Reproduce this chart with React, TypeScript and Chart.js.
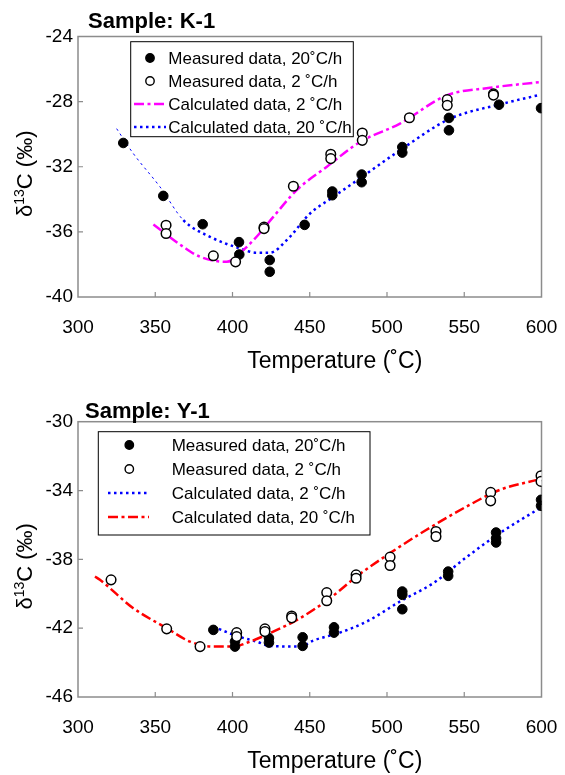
import React, { useEffect, useRef } from "react";
import { Chart, registerables } from "chart.js";

Chart.register(...registerables);

const FONT = '"Liberation Sans", Arial, Helvetica, sans-serif';

// ---------- shared axis data ----------
const X_TICKS = [300, 350, 400, 450, 500, 550, 600];
const K1_Y_TICKS = [-40, -36, -32, -28, -24];
const Y1_Y_TICKS = [-46, -42, -38, -34, -30];

const X_TITLE = "Temperature (˚C)";

// ---------- Sample K-1 ----------
const K1_TITLE = "Sample: K-1";
const K1_LEGEND = [
  "Measured data, 20˚C/h",
  "Measured data, 2 ˚C/h",
  "Calculated data, 2 ˚C/h",
  "Calculated data, 20 ˚C/h",
];
const K1_MEAS_20: [number, number][] = [
  [329.3, -30.54], [355.2, -33.79], [380.7, -35.53], [404.2, -36.63], [404.4, -37.39],
  [424.1, -37.73], [424.1, -38.45], [446.7, -35.57], [464.6, -33.52], [464.6, -33.75],
  [483.6, -32.48], [483.6, -32.95], [509.9, -30.79], [509.9, -31.13], [540.1, -29.0],
  [540.1, -29.76], [572.5, -28.19], [599.7, -28.4],
];
const K1_MEAS_2: [number, number][] = [
  [357, -35.59], [357, -36.1], [387.6, -37.47], [402, -37.84], [420.4, -35.71],
  [420.4, -35.8], [439.4, -33.2], [463.6, -31.23], [463.6, -31.5], [484, -29.93],
  [484, -30.38], [514.5, -28.99], [539, -27.88], [539, -28.23], [568.9, -27.52], [568.9, -27.6],
];
const K1_CALC_2: [number, number][] = [
  [348.8, -35.55], [368.2, -36.92], [379, -37.53], [396.2, -37.84], [407, -37.12],
  [415.6, -36.3], [426.4, -35.08], [441.5, -33.44], [460.9, -32.01], [482.5, -30.48],
  [508.4, -29.35], [538.6, -27.62], [566.6, -27.15], [599, -26.8],
];
const K1_CALC_20: [number, number][] = [
  [325, -29.66], [335.8, -31.19], [353.1, -33.24], [368.2, -35.28], [385.4, -36.3],
  [404.9, -37.02], [415.6, -37.28], [424.3, -37.28], [435.1, -36.51], [450.2, -34.87],
  [465.3, -33.85], [486.9, -32.42], [508.4, -30.99], [540.8, -29.05], [573.1, -28.17],
  [599, -27.58],
];

// ---------- Sample Y-1 ----------
const Y1_TITLE = "Sample: Y-1";
const Y1_LEGEND = [
  "Measured data, 20˚C/h",
  "Measured data, 2 ˚C/h",
  "Calculated data, 2 ˚C/h",
  "Calculated data, 20 ˚C/h",
];
const Y1_MEAS_20: [number, number][] = [
  [387.6, -42.1], [401.6, -42.78], [401.6, -43.07], [423.6, -42.58], [423.6, -42.84],
  [445.4, -42.53], [445.4, -43.03], [465.7, -41.95], [465.7, -42.26], [509.9, -39.87],
  [509.9, -40.06], [509.9, -40.9], [539.6, -38.71], [539.6, -38.96], [570.6, -36.44],
  [570.6, -36.77], [570.6, -37.02], [599.7, -34.54], [599.7, -34.89],
];
const Y1_MEAS_2: [number, number][] = [
  [321.4, -39.19], [357.4, -42.04], [379, -43.07], [402.7, -42.26], [402.7, -42.49],
  [421, -42.04], [421, -42.2], [438.3, -41.29], [438.3, -41.4], [461, -39.93],
  [461, -40.41], [480, -38.9], [480, -39.1], [502, -37.87], [502, -38.36],
  [531.7, -36.38], [531.7, -36.67], [567.1, -34.11], [567.1, -34.6], [599.7, -33.14],
  [599.7, -33.47],
];
const Y1_CALC_2: [number, number][] = [
  [387.6, -41.91], [402.7, -42.45], [415.6, -42.78], [424.3, -43.03], [443.7, -43.07],
  [452.3, -42.72], [469.5, -42.26], [486.8, -41.62], [508.4, -40.45], [530, -39.38],
  [551.5, -37.87], [573.1, -36.47], [599, -35.02],
];
const Y1_CALC_20: [number, number][] = [
  [311, -39.0], [314.2, -39.19], [335.8, -40.84], [357.4, -42.0], [372.5, -42.78],
  [387.6, -43.07], [400.5, -43.07], [411.3, -42.78], [426.4, -42.2], [443.7, -41.42],
  [463.1, -40.26], [480.3, -39.0], [501.9, -37.64], [525.6, -36.28], [551.5, -34.93],
  [573.1, -33.96], [599, -33.34],
];

// ---------- styles ----------
const DOT = [2.5, 3.5];
const DASHDOT = [10, 3.5, 3, 3.5];

type LegendRow = { kind: "filled" | "open" | "line"; color?: string; dash?: number[] };

interface PanelCfg {
  title: string;
  titleX: number;
  titleY: number;
  legendTexts: string[];
  legendRows: LegendRow[];
  box: { x: number; y: number; w: number; h: number };
  symX: number;
  lineX0: number;
  lineX1: number;
  textX: number;
  rowY: number[];
}

function decorPlugin(cfg: PanelCfg) {
  return {
    id: "decor",
    beforeDatasetsDraw(chart: any) {
      const ctx = chart.ctx as CanvasRenderingContext2D;
      const a = chart.chartArea;
      const xs = chart.scales.x;
      const ys = chart.scales.y;
      ctx.save();
      ctx.strokeStyle = "#8c8c8c";
      ctx.lineWidth = 1.5;
      ctx.strokeRect(a.left, a.top, a.right - a.left, a.bottom - a.top);
      ctx.lineWidth = 1.2;
      ctx.beginPath();
      xs.ticks.forEach((t: any) => {
        const p = xs.getPixelForValue(t.value);
        if (p <= a.left + 1 || p >= a.right - 1) return;
        ctx.moveTo(p, a.bottom);
        ctx.lineTo(p, a.bottom - 5);
      });
      ys.ticks.forEach((t: any) => {
        const p = ys.getPixelForValue(t.value);
        if (p <= a.top + 1 || p >= a.bottom - 1) return;
        ctx.moveTo(a.left, p);
        ctx.lineTo(a.left + 5, p);
      });
      ctx.stroke();
      ctx.restore();
    },
    afterDraw(chart: any) {
      const ctx = chart.ctx as CanvasRenderingContext2D;
      const a = chart.chartArea;
      ctx.save();
      ctx.fillStyle = "#000";
      // panel title
      ctx.font = `bold 22px ${FONT}`;
      ctx.textAlign = "left";
      ctx.textBaseline = "middle";
      ctx.fillText(cfg.title, cfg.titleX, cfg.titleY);
      // x title
      ctx.font = `23px ${FONT}`;
      ctx.textAlign = "center";
      ctx.fillText(X_TITLE, (a.left + a.right) / 2 + 25, a.bottom + 65);
      // y title
      ctx.save();
      ctx.translate(24, (a.top + a.bottom) / 2 + 7);
      ctx.rotate(-Math.PI / 2);
      const big = `22px ${FONT}`;
      const small = `14px ${FONT}`;
      ctx.font = big;
      const w1 = ctx.measureText("δ").width;
      const w3 = ctx.measureText("C (‰)").width;
      ctx.font = small;
      const w2 = ctx.measureText("13").width;
      let x0 = -(w1 + w2 + w3) / 2;
      ctx.textAlign = "left";
      ctx.textBaseline = "alphabetic";
      const base = 8;
      ctx.font = big;
      ctx.fillText("δ", x0, base);
      x0 += w1;
      ctx.font = small;
      ctx.fillText("13", x0, base - 8);
      x0 += w2;
      ctx.font = big;
      ctx.fillText("C (‰)", x0, base);
      ctx.restore();
      // legend
      const b = cfg.box;
      ctx.fillStyle = "#fff";
      ctx.fillRect(b.x, b.y, b.w, b.h);
      ctx.strokeStyle = "#000";
      ctx.lineWidth = 1;
      ctx.strokeRect(b.x, b.y, b.w, b.h);
      ctx.font = `17px ${FONT}`;
      ctx.textAlign = "left";
      ctx.textBaseline = "middle";
      cfg.legendRows.forEach((r, i) => {
        const y = cfg.rowY[i];
        if (r.kind === "filled" || r.kind === "open") {
          ctx.beginPath();
          ctx.arc(cfg.symX, y, 4.2, 0, Math.PI * 2);
          ctx.fillStyle = r.kind === "filled" ? "#000" : "#fff";
          ctx.fill();
          ctx.strokeStyle = "#000";
          ctx.lineWidth = 1.4;
          ctx.stroke();
        } else {
          ctx.beginPath();
          ctx.setLineDash(r.dash || []);
          ctx.strokeStyle = r.color || "#000";
          ctx.lineWidth = 2.5;
          ctx.moveTo(cfg.lineX0, y);
          ctx.lineTo(cfg.lineX1, y);
          ctx.stroke();
          ctx.setLineDash([]);
        }
        ctx.fillStyle = "#000";
        ctx.fillText(cfg.legendTexts[i], cfg.textX, y + 1);
      });
      ctx.restore();
    },
  };
}

function toPts(arr: [number, number][]) {
  return arr.map(([x, y]) => ({ x, y }));
}

function buildConfig(opts: {
  yMin: number;
  yMax: number;
  yTicks: number[];
  meas20: [number, number][];
  meas2: [number, number][];
  lineA: [number, number][];
  lineAColor: string;
  lineADash: number[];
  lineAThinUntil: number;
  lineB: [number, number][];
  lineBColor: string;
  lineBDash: number[];
  xAxisHeight: number;
  padTop: number;
  cfg: PanelCfg;
}): any {
  const pointCommon = { showLine: false, pointRadius: 4.8, pointHoverRadius: 4.8 };
  return {
    type: "scatter",
    data: {
      datasets: [
        {
          label: "m20",
          data: toPts(opts.meas20),
          ...pointCommon,
          backgroundColor: "#000",
          borderColor: "#000",
          pointBorderWidth: 1,
          order: 2,
        },
        {
          label: "m2",
          data: toPts(opts.meas2),
          ...pointCommon,
          backgroundColor: "#fff",
          borderColor: "#000",
          pointBorderWidth: 1.5,
          order: 1,
        },
        {
          label: "lineA",
          data: toPts(opts.lineA),
          showLine: true,
          pointRadius: 0,
          borderColor: opts.lineAColor,
          borderDash: opts.lineADash,
          borderWidth: 2.5,
          cubicInterpolationMode: "monotone",
          segment: {
            borderWidth: (c: any) => (c.p0DataIndex < opts.lineAThinUntil ? 1 : 2.5),
          },
          order: 4,
        },
        {
          label: "lineB",
          data: toPts(opts.lineB),
          showLine: true,
          pointRadius: 0,
          borderColor: opts.lineBColor,
          borderDash: opts.lineBDash,
          borderWidth: 2.5,
          cubicInterpolationMode: "monotone",
          order: 3,
        },
      ],
    },
    options: {
      responsive: false,
      animation: false,
      events: [],
      layout: { padding: { top: opts.padTop, right: 23.5, left: 0, bottom: 0 } },
      plugins: { legend: { display: false }, tooltip: { enabled: false }, title: { display: false } },
      scales: {
        x: {
          type: "linear",
          min: 300,
          max: 600,
          afterBuildTicks: (s: any) => {
            s.ticks = X_TICKS.map((v) => ({ value: v }));
          },
          afterFit: (s: any) => {
            s.height = opts.xAxisHeight;
            s.paddingLeft = 0;
            s.paddingRight = 0;
          },
          grid: { display: false, drawTicks: false },
          border: { display: false },
          ticks: {
            font: { size: 19, family: FONT },
            color: "#000",
            padding: 19,
            maxRotation: 0,
            autoSkip: false,
          },
        },
        y: {
          type: "linear",
          min: opts.yMin,
          max: opts.yMax,
          afterBuildTicks: (s: any) => {
            s.ticks = opts.yTicks.map((v) => ({ value: v }));
          },
          afterFit: (s: any) => {
            s.width = 78;
            s.paddingTop = 0;
            s.paddingBottom = 0;
          },
          grid: { display: false, drawTicks: false },
          border: { display: false },
          ticks: {
            font: { size: 19, family: FONT },
            color: "#000",
            padding: 5,
            autoSkip: false,
          },
        },
      },
    },
    plugins: [decorPlugin(opts.cfg)],
  };
}

function Panel({ top, height, config }: { top: number; height: number; config: () => any }) {
  const ref = useRef<HTMLCanvasElement>(null);
  useEffect(() => {
    const chart = new Chart(ref.current as HTMLCanvasElement, config());
    return () => chart.destroy();
  }, []);
  return (
    <canvas
      ref={ref}
      width={565}
      height={height}
      style={{ position: "absolute", left: 0, top, width: 565, height }}
    />
  );
}

export default function App() {
  const k1 = () =>
    buildConfig({
      yMin: -40,
      yMax: -24,
      yTicks: K1_Y_TICKS,
      meas20: K1_MEAS_20,
      meas2: K1_MEAS_2,
      lineA: K1_CALC_20,
      lineAColor: "#0000ff",
      lineADash: DOT,
      lineAThinUntil: 3,
      lineB: K1_CALC_2,
      lineBColor: "#ff00ff",
      lineBDash: DASHDOT,
      xAxisHeight: 88,
      padTop: 36.5,
      cfg: {
        title: K1_TITLE,
        titleX: 88,
        titleY: 21.7,
        legendTexts: K1_LEGEND,
        legendRows: [
          { kind: "filled" },
          { kind: "open" },
          { kind: "line", color: "#ff00ff", dash: DASHDOT },
          { kind: "line", color: "#0000ff", dash: DOT },
        ],
        box: { x: 130.7, y: 41.7, w: 222.6, h: 95 },
        symX: 150,
        lineX0: 134,
        lineX1: 166,
        textX: 168.3,
        rowY: [58, 81, 104, 127],
      },
    });
  const y1 = () =>
    buildConfig({
      yMin: -46,
      yMax: -30,
      yTicks: Y1_Y_TICKS,
      meas20: Y1_MEAS_20,
      meas2: Y1_MEAS_2,
      lineA: Y1_CALC_2,
      lineAColor: "#0000ff",
      lineADash: DOT,
      lineAThinUntil: 0,
      lineB: Y1_CALC_20,
      lineBColor: "#ff0000",
      lineBDash: DASHDOT,
      xAxisHeight: 78,
      padTop: 36.7,
      cfg: {
        title: Y1_TITLE,
        titleX: 85,
        titleY: 26.7,
        legendTexts: Y1_LEGEND,
        legendRows: [
          { kind: "filled" },
          { kind: "open" },
          { kind: "line", color: "#0000ff", dash: DOT },
          { kind: "line", color: "#ff0000", dash: DASHDOT },
        ],
        box: { x: 98.3, y: 46.7, w: 271.7, h: 103.3 },
        symX: 129.3,
        lineX0: 108,
        lineX1: 149,
        textX: 171.7,
        rowY: [60, 84, 108, 132],
      },
    });
  return (
    <div
      style={{
        position: "absolute",
        left: 0,
        top: 0,
        width: 565,
        height: 775,
        background: "#fff",
        overflow: "hidden",
      }}
    >
      <Panel top={0} height={385} config={k1} />
      <Panel top={385} height={390} config={y1} />
    </div>
  );
}
